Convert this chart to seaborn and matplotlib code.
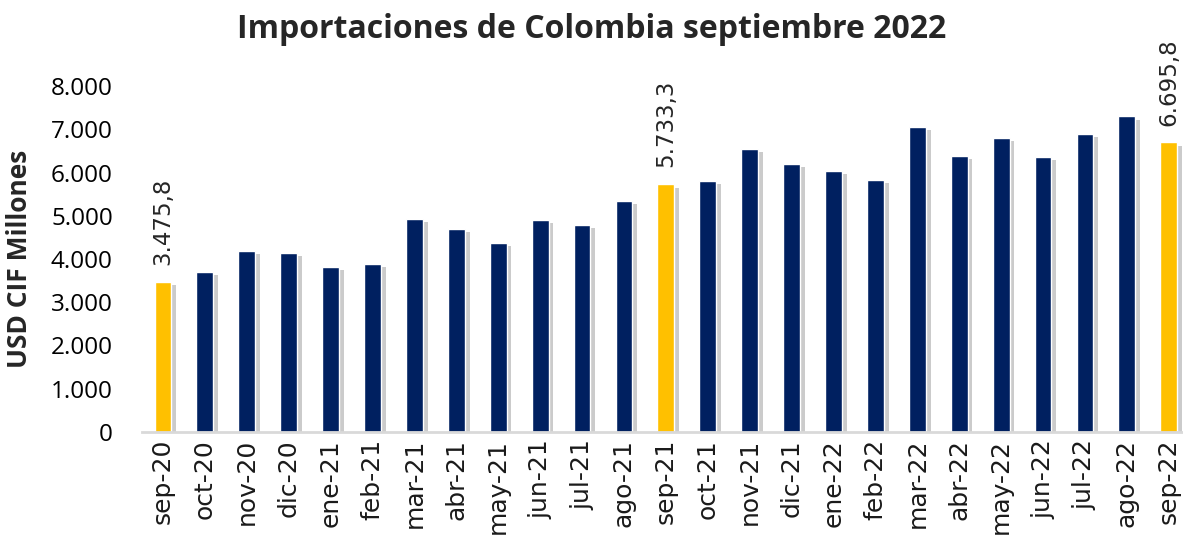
import matplotlib
matplotlib.use("Agg")
import matplotlib.pyplot as plt
import matplotlib.patheffects as pe
from matplotlib.ticker import FuncFormatter
import pandas as pd
import seaborn as sns

months = [
    "sep-20", "oct-20", "nov-20", "dic-20", "ene-21", "feb-21", "mar-21", "abr-21",
    "may-21", "jun-21", "jul-21", "ago-21", "sep-21", "oct-21", "nov-21", "dic-21",
    "ene-22", "feb-22", "mar-22", "abr-22", "may-22", "jun-22", "jul-22", "ago-22", "sep-22",
]
imports = [
    3475.8, 3700, 4185, 4139, 3815, 3891, 4932, 4694,
    4370, 4909, 4793, 5348, 5733.3, 5803, 6543, 6203,
    6041, 5826, 7059, 6381, 6798, 6358, 6890, 7297, 6695.8,
]
highlight = ["sep-20", "sep-21", "sep-22"]

NAVY = "#002060"
GOLD = "#FFC000"
WIDE_FONT = ["DejaVu Sans"]


def thousands(value, _pos=None):
    return f"{value:,.0f}".replace(",", ".")


def label_fmt(value):
    return f"{value:,.1f}".replace(",", "X").replace(".", ",").replace("X", ".")


sns.set_style("white")
plt.rcParams["font.family"] = ["Open Sans", "DejaVu Sans"]

df = pd.DataFrame({"month": months, "value": imports})
df["kind"] = ["sep" if m in highlight else "other" for m in df["month"]]

fig = plt.figure(figsize=(11.83, 5.42), dpi=100)
ax = fig.add_axes([142 / 1183, 110 / 542, (1183 - 142) / 1183, 346 / 542])

sns.barplot(
    data=df,
    x="month",
    y="value",
    hue="kind",
    palette={"sep": GOLD, "other": NAVY},
    dodge=False,
    legend=False,
    width=0.4,
    saturation=1,
    ax=ax,
)

# soft drop shadow like the Excel original
shadow = [pe.SimplePatchShadow(offset=(3.5, -2.5), shadow_rgbFace="#8c8c8c", alpha=0.45), pe.Normal()]
for patch in ax.patches:
    patch.set_path_effects(shadow)

for i, (m, v) in enumerate(zip(months, imports)):
    if m in highlight:
        ax.annotate(
            label_fmt(v),
            xy=(i, v),
            xytext=(0, 12),
            textcoords="offset points",
            rotation=90,
            ha="center",
            va="bottom",
            fontsize=16.5,
            family=WIDE_FONT,
            color="#262626",
        )

ax.set_ylim(0, 8000)
ax.set_xlim(-0.5, 24.34)
ax.set_yticks(range(0, 8001, 1000))
ax.yaxis.set_major_formatter(FuncFormatter(thousands))
ax.tick_params(axis="y", labelsize=17.5, length=0, pad=21, labelcolor="#000000")
ax.tick_params(axis="x", labelsize=18, length=0, pad=5, labelrotation=90, labelcolor="#1a1a1a")
for lbl in ax.get_xticklabels():
    lbl.set_family(WIDE_FONT)

for side in ["top", "right", "left"]:
    ax.spines[side].set_visible(False)
ax.spines["bottom"].set_color("#d9d9d9")
ax.spines["bottom"].set_linewidth(2)

ax.set_xlabel("")
ax.set_ylabel("USD CIF Millones", fontsize=19, fontweight="bold")
ax.yaxis.set_label_coords(-0.105, 0.5)

fig.text(0.5, 0.945, "Importaciones de Colombia septiembre 2022",
         ha="center", va="center", fontsize=23, fontweight="bold")

fig.savefig("out.png", dpi=100)
